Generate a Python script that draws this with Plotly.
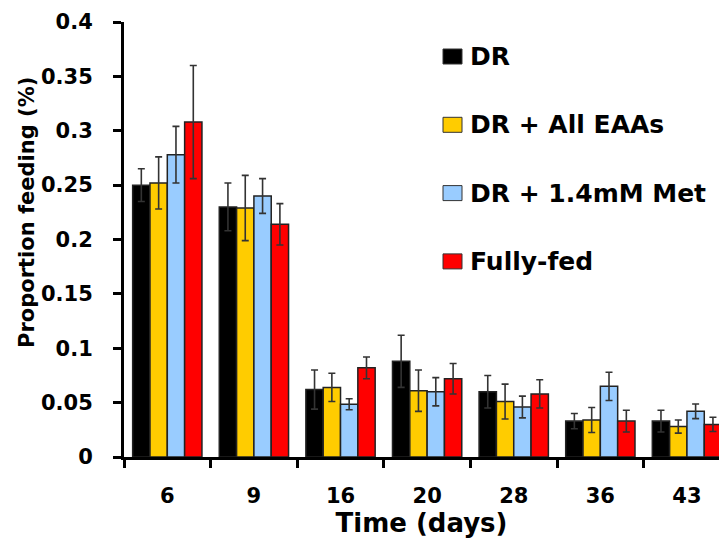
import plotly.graph_objects as go

days = ["6", "9", "16", "20", "28", "36", "43"]
series_names = ["DR", "DR + All EAAs", "DR + 1.4mM Met", "Fully-fed"]
colors = ["#000000", "#FFCC00", "#99CCFF", "#FF0000"]

dr = [0.250, 0.230, 0.062, 0.088, 0.060, 0.033, 0.033]
dr_err = [0.015, 0.022, 0.018, 0.024, 0.015, 0.007, 0.010]
eaa = [0.252, 0.229, 0.064, 0.061, 0.051, 0.034, 0.028]
eaa_err = [0.024, 0.030, 0.013, 0.019, 0.016, 0.0115, 0.006]
met = [0.278, 0.240, 0.0485, 0.060, 0.046, 0.065, 0.042]
met_err = [0.026, 0.016, 0.005, 0.013, 0.010, 0.013, 0.0067]
fed = [0.308, 0.214, 0.082, 0.072, 0.058, 0.033, 0.030]
fed_err = [0.052, 0.019, 0.010, 0.014, 0.013, 0.010, 0.0065]

values = [dr, eaa, met, fed]
errors = [dr_err, eaa_err, met_err, fed_err]

FONT = "DejaVu Sans"

fig = go.Figure()
for name, col, v, e in zip(series_names, colors, values, errors):
    fig.add_trace(go.Bar(
        x=days, y=v, name=name,
        marker=dict(color=col, line=dict(color="#222222", width=1.5)),
        error_y=dict(type="data", array=e, visible=True, color="#333333",
                     thickness=1.6, width=3.5),
        showlegend=False,
    ))

# plot-area geometry (pixels) for manual legend placement
L, R, T, B = 124, 719, 22, 457
def px_x(x):
    return (x - L) / (R - L)
def px_y(y):
    return (B - y) / (B - T)

legend_centers = [56.5, 124.8, 193.1, 261.4]
shapes = []
annotations = []
for name, col, cy in zip(series_names, colors, legend_centers):
    shapes.append(dict(type="rect", xref="paper", yref="paper",
                       x0=px_x(443), x1=px_x(462), y0=px_y(cy + 7.5), y1=px_y(cy - 7.5),
                       fillcolor=col, line=dict(color="#333333", width=1)))
    annotations.append(dict(xref="paper", yref="paper", x=px_x(468), y=px_y(cy),
                            xanchor="left", yanchor="middle", text=name, showarrow=False,
                            font=dict(family=FONT, size=25, color="black", weight="bold")))

annotations.append(dict(xref="paper", yref="paper", x=px_x(27), y=px_y(213),
                        xanchor="center", yanchor="middle", textangle=-90,
                        text="Proportion feeding (%)", showarrow=False,
                        font=dict(family=FONT, size=21, color="black", weight="bold")))

fig.update_layout(
    width=719, height=549,
    margin=dict(l=L, r=0, t=T, b=549 - B, autoexpand=False),
    paper_bgcolor="white", plot_bgcolor="white",
    barmode="group", bargap=0.2, bargroupgap=0,
    shapes=shapes, annotations=annotations,
    font=dict(family=FONT, color="black"),
)
fig.update_xaxes(
    type="category", range=[-0.5, 6.37], tickson="boundaries",
    showline=True, linecolor="black", linewidth=3,
    ticks="outside", ticklen=8, tickwidth=3, tickcolor="black",
    showgrid=False, zeroline=False,
    tickfont=dict(family=FONT, size=21, color="black", weight="bold"),
    ticklabelstandoff=18,
    title=dict(text="Time (days)", standoff=2,
               font=dict(family=FONT, size=26, color="black", weight="bold")),
)
fig.update_yaxes(
    range=[0, 0.4], dtick=0.05, tick0=0,
    showline=True, linecolor="black", linewidth=3,
    ticks="outside", ticklen=8, tickwidth=2.5, tickcolor="black",
    showgrid=False, zeroline=False,
    tickfont=dict(family=FONT, size=21, color="black", weight="bold"),
    ticklabelstandoff=16,
)

fig.write_html("out.html")
